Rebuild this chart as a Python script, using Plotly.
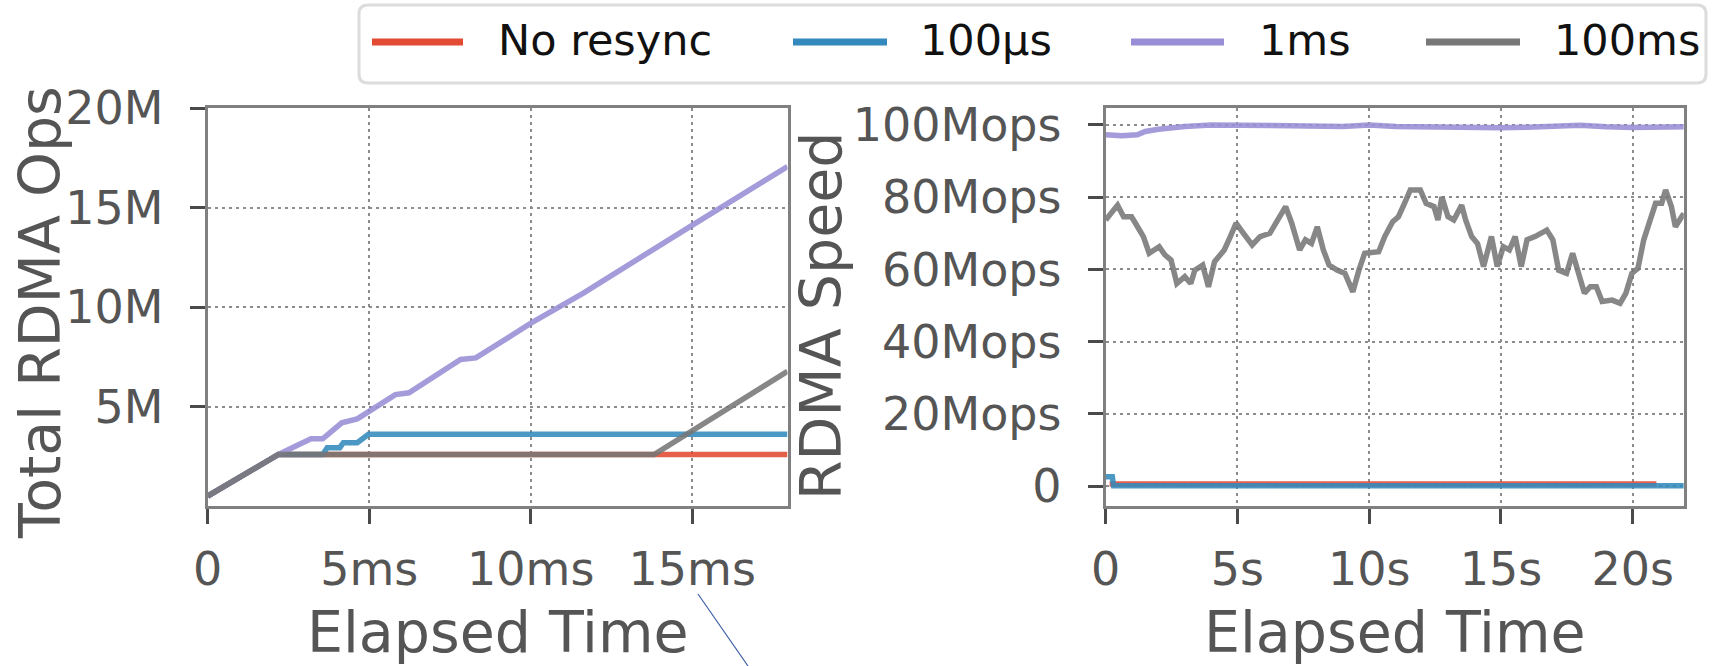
import plotly.graph_objects as go

W, H = 1713, 666

# ---------------- data ----------------
series_names = ["No resync", "100µs", "1ms", "100ms"]
series_colors = ["#E24A33", "#348ABD", "#988ED5", "#777777"]

# Left panel: total RDMA ops (millions) vs elapsed time (ms)
left_red_x = [0, 2.19, 17.95]
left_red_y = [0.5, 2.59, 2.59]
left_blue_x = [0, 2.19, 3.56, 3.70, 4.09, 4.20, 4.63, 4.98, 17.95]
left_blue_y = [0.5, 2.59, 2.59, 2.93, 2.93, 3.18, 3.18, 3.60, 3.60]
left_purple_x = [0, 2.19, 2.73, 3.20, 3.56, 4.15, 4.63, 5.02, 5.81, 6.23, 7.83, 8.30,
                 10.02, 11.63, 12.81, 14.00, 15.02, 17.95]
left_purple_y = [0.5, 2.59, 3.01, 3.38, 3.38, 4.18, 4.38, 4.77, 5.60, 5.69, 7.36, 7.44,
                 9.20, 10.70, 11.87, 13.04, 14.13, 17.06]
left_gray_x = [0, 2.19, 13.82, 17.95]
left_gray_y = [0.5, 2.59, 2.59, 6.77]

left_xticks = [0, 5, 10, 15]
left_xticktext = ["0", "5ms", "10ms", "15ms"]
left_yticks = [5, 10, 15, 20]
left_yticktext = ["5M", "10M", "15M", "20M"]

# Right panel: RDMA speed (Mops) vs elapsed time (s)
right_red_x = [0.15, 20.9]
right_red_y = [0.6, 0.6]
right_blue_x = [0, 0.25, 0.3, 21.94]
right_blue_y = [2.6, 2.6, 0.1, 0.1]
right_purple_x = [0, 0.6, 1.2, 1.5, 2.0, 3.0, 4.0, 6.0, 7.0, 9.0, 10.0, 11.0, 13.0, 15.0,
                  16.0, 17.0, 18.0, 19.0, 20.0, 21.94]
right_purple_y = [97.3, 97.0, 97.3, 98.2, 98.8, 99.6, 100.0, 100.1, 99.8, 99.6, 100.0, 99.6,
                  99.3, 99.2, 99.4, 99.6, 99.9, 99.5, 99.3, 99.5]
right_gray_x = [0, 0.45, 0.68, 0.98, 1.13, 1.43, 1.65, 2.03, 2.25, 2.48, 2.70, 3.00, 3.23,
                3.38, 3.68, 3.90, 4.13, 4.50, 4.73, 4.95, 5.18, 5.56, 5.86, 6.23, 6.53,
                6.83, 7.06, 7.36, 7.58, 7.81, 8.03, 8.26, 8.48, 8.78, 9.08, 9.38, 9.61,
                9.83, 10.36, 10.59, 10.89, 11.11, 11.34, 11.56, 11.94, 12.16, 12.46,
                12.61, 12.76, 12.99, 13.21, 13.51, 13.66, 13.89, 14.11, 14.34, 14.64,
                14.86, 15.09, 15.32, 15.54, 15.77, 15.99, 16.29, 16.74, 16.97, 17.19,
                17.49, 17.72, 17.94, 18.17, 18.39, 18.62, 18.84, 19.22, 19.52, 19.74,
                19.97, 20.20, 20.42, 20.65, 20.87, 21.10, 21.25, 21.47, 21.62, 21.94]
right_gray_y = [73.7, 77.8, 74.6, 74.6, 72.8, 69.1, 64.5, 66.3, 64.0, 62.6, 56.1, 58.0, 56.1,
                59.8, 61.2, 55.2, 62.1, 65.4, 69.1, 72.8, 70.5, 66.8, 69.1, 70.0, 73.7,
                77.4, 72.8, 65.4, 68.2, 67.2, 71.8, 65.4, 61.2, 59.8, 58.9, 53.8, 59.8,
                64.5, 64.9, 69.1, 73.2, 74.6, 78.3, 82.0, 82.0, 78.3, 77.4,
                73.7, 80.1, 74.6, 73.7, 77.8, 73.7, 69.1, 67.2, 60.8, 69.1,
                60.8, 66.3, 65.4, 69.1, 60.8, 68.2, 69.1, 70.9, 68.2, 59.8,
                58.9, 64.5, 58.9, 53.4, 55.2, 55.2, 51.1, 51.5, 50.6, 53.4,
                58.9, 60.3, 68.2, 73.7, 78.3, 78.3, 82.0, 77.4, 71.8, 75.5]

right_xticks = [0, 5, 10, 15, 20]
right_xticktext = ["0", "5s", "10s", "15s", "20s"]
right_yticks = [0, 20, 40, 60, 80, 100]
right_yticktext = ["0", "20Mops", "40Mops", "60Mops", "80Mops", "100Mops"]

x_title = "Elapsed Time"
left_y_title = "Total RDMA Ops"
right_y_title = "RDMA Speed"

# ---------------- helpers ----------------
def PX(x):
    return x / W


def PY(y):
    return 1 - y / H


FONT = "DejaVu Sans"
TXT = "#555555"
LINE_W = 5.5

fig = go.Figure()

left = [(left_red_x, left_red_y), (left_blue_x, left_blue_y),
        (left_purple_x, left_purple_y), (left_gray_x, left_gray_y)]
right = [(right_red_x, right_red_y), (right_blue_x, right_blue_y),
         (right_purple_x, right_purple_y), (right_gray_x, right_gray_y)]

for i, (xs, ys) in enumerate(left):
    fig.add_trace(go.Scatter(x=xs, y=ys, mode="lines", name=series_names[i],
                             line=dict(color=series_colors[i], width=LINE_W),
                             opacity=0.88, showlegend=False, xaxis="x", yaxis="y"))
for i, (xs, ys) in enumerate(right):
    fig.add_trace(go.Scatter(x=xs, y=ys, mode="lines", name=series_names[i],
                             line=dict(color=series_colors[i], width=LINE_W),
                             opacity=0.88, showlegend=False, xaxis="x2", yaxis="y2"))

axis_common = dict(
    automargin=False,
    showline=True, mirror=True, linecolor="#808080", linewidth=3,
    ticks="outside", ticklen=15, tickwidth=3, tickcolor="#4a4a4a",
    showgrid=True, gridcolor="#8c8c8c", gridwidth=2, griddash="3px,4px",
    zeroline=False,
    tickfont=dict(family=FONT, size=46, color=TXT),
)

y_dom = [PY(506), PY(108)]

fig.update_layout(
    template="none",
    width=W, height=H,
    margin=dict(l=0, r=0, t=0, b=0, pad=0, autoexpand=False),
    paper_bgcolor="white", plot_bgcolor="white",
    showlegend=False,
    xaxis=dict(domain=[PX(207.7), PX(787.5)], range=[0, 17.95], anchor="y",
               tickvals=left_xticks, ticktext=left_xticktext,
               ticklabelstandoff=6, **axis_common),
    yaxis=dict(domain=y_dom, range=[0, 20], anchor="x",
               tickvals=left_yticks, ticktext=left_yticktext,
               ticklabelstandoff=17, **axis_common),
    xaxis2=dict(domain=[PX(1105.7), PX(1683.8)], range=[0, 21.94], anchor="y2",
                tickvals=right_xticks, ticktext=right_xticktext,
                ticklabelstandoff=6, **axis_common),
    yaxis2=dict(domain=y_dom, range=[-5.5, 104.7], anchor="x2",
                tickvals=right_yticks, ticktext=right_yticktext,
                ticklabelstandoff=17, **axis_common),
)

# axis titles
title_font = dict(family=FONT, size=57, color=TXT)
ann = [
    dict(text=x_title, x=PX(497.6), y=PY(632), xanchor="center", yanchor="middle"),
    dict(text=x_title, x=PX(1394.7), y=PY(632), xanchor="center", yanchor="middle"),
    dict(text=left_y_title, x=PX(40), y=PY(313), xanchor="center", yanchor="middle",
         textangle=-90),
    dict(text=right_y_title, x=PX(821), y=PY(316), xanchor="center", yanchor="middle",
         textangle=-90),
]
for a in ann:
    a.update(xref="paper", yref="paper", showarrow=False, font=title_font)

# legend (drawn as a framed box with line keys)
lx0, lx1, ly0, ly1, r = 359, 1706, 5, 83, 9
legend_path = (
    f"M {PX(lx0 + r)},{PY(ly0)} L {PX(lx1 - r)},{PY(ly0)} "
    f"Q {PX(lx1)},{PY(ly0)} {PX(lx1)},{PY(ly0 + r)} L {PX(lx1)},{PY(ly1 - r)} "
    f"Q {PX(lx1)},{PY(ly1)} {PX(lx1 - r)},{PY(ly1)} L {PX(lx0 + r)},{PY(ly1)} "
    f"Q {PX(lx0)},{PY(ly1)} {PX(lx0)},{PY(ly1 - r)} L {PX(lx0)},{PY(ly0 + r)} "
    f"Q {PX(lx0)},{PY(ly0)} {PX(lx0 + r)},{PY(ly0)} Z"
)
shapes = [dict(type="path", path=legend_path, xref="paper", yref="paper",
               line=dict(color="#dcdcdc", width=3), fillcolor="white", layer="above")]
key_x = [(372, 463), (793, 887), (1131, 1224), (1426, 1520)]
text_x = [496, 918, 1257, 1552]
for i in range(4):
    shapes.append(dict(type="line", xref="paper", yref="paper",
                       x0=PX(key_x[i][0]), x1=PX(key_x[i][1]), y0=PY(42), y1=PY(42),
                       line=dict(color=series_colors[i], width=7), layer="above"))
    ann.append(dict(text=series_names[i], x=PX(text_x[i]), y=PY(40), xref="paper",
                    yref="paper", xanchor="left", yanchor="middle", showarrow=False,
                    font=dict(family=FONT, size=43, color="#111111")))

# thin connector line near the bottom
shapes.append(dict(type="line", xref="paper", yref="paper",
                   x0=PX(698), y0=PY(594), x1=PX(748), y1=PY(666),
                   line=dict(color="#3d5fa6", width=1.2)))

fig.update_layout(annotations=ann, shapes=shapes)

fig.write_html("out.html")
